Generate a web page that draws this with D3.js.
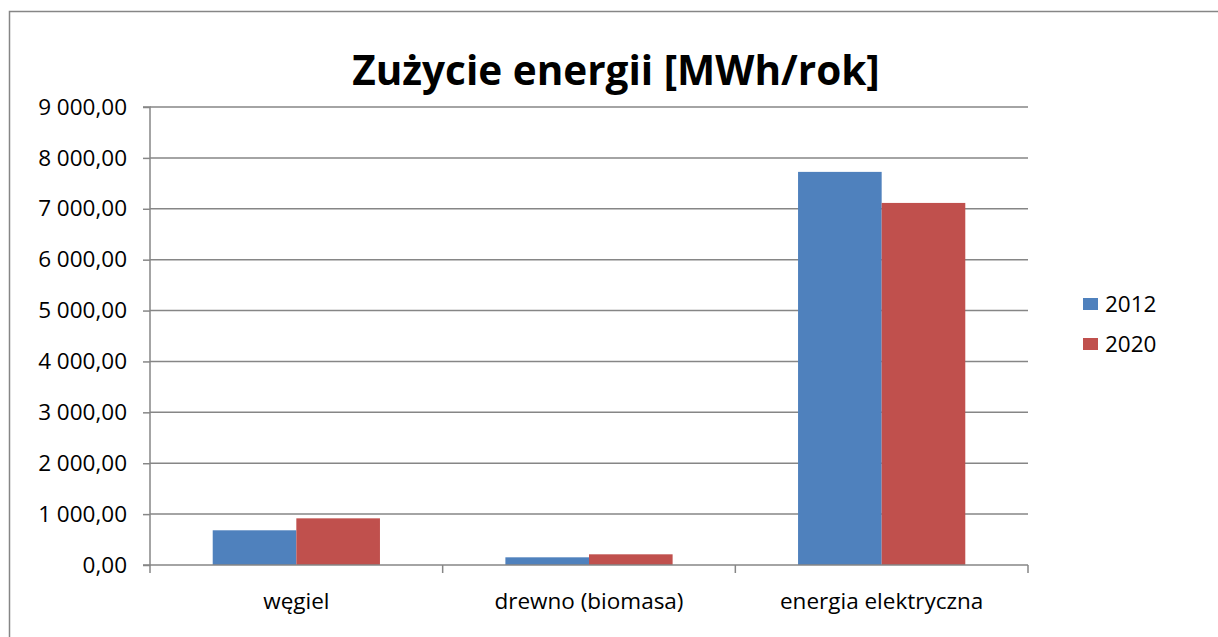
<!DOCTYPE html>
<html><head><meta charset="utf-8">
<script src="https://cdn.jsdelivr.net/npm/d3@7"></script>
<style>body{margin:0;background:#fff}svg{display:block}</style>
</head><body>
<script>
const categories = ["węgiel", "drewno (biomasa)", "energia elektryczna"];
const seriesNames = ["2012", "2020"];
const values2012 = [682, 151, 7725];
const values2020 = [917, 210, 7115];
const yTicks = [0, 1000, 2000, 3000, 4000, 5000, 6000, 7000, 8000, 9000];
const colors = ["#4F81BD", "#C0504D"];

const W = 1218, H = 637;
const font = "'Open Sans', sans-serif";
const svg = d3.select("body").append("svg").attr("width", W).attr("height", H);
svg.append("rect").attr("x", 9.5).attr("y", 11.5).attr("width", 1230).attr("height", 650)
  .attr("fill", "#fff").attr("stroke", "#868686").attr("stroke-width", 1.5);

const pLeft = 150, pRight = 1028, pTop = 107, pBottom = 565;
const x = d3.scaleBand().domain(categories).range([pLeft, pRight]).paddingInner(0).paddingOuter(0);
const y = d3.scaleLinear().domain([0, 9000]).range([pBottom, pTop]);
const gap = 1.5; // Excel gap width 150%
const xs = d3.scaleBand().domain(seriesNames).range([x.bandwidth()*gap/2/(2+gap), x.bandwidth() - x.bandwidth()*gap/2/(2+gap)]);

const fmt = v => d3.format(",.2f")(v).replace(/,/g, " ").replace(".", ",");

// gridlines
svg.append("g").selectAll("line").data(yTicks.filter(d => d > 0)).join("line")
  .attr("x1", pLeft).attr("x2", pRight).attr("y1", d => y(d)).attr("y2", d => y(d))
  .attr("stroke", "#868686").attr("stroke-width", 1.5);

// bars
const data = seriesNames.map((s, i) => ({ s, vals: i === 0 ? values2012 : values2020, c: colors[i] }));
data.forEach(d => {
  svg.append("g").selectAll("rect").data(categories).join("rect")
    .attr("x", c => x(c) + xs(d.s)).attr("width", xs.bandwidth())
    .attr("y", (c, i) => y(d.vals[i])).attr("height", (c, i) => y(0) - y(d.vals[i]))
    .attr("fill", d.c);
});

// y axis
const yAxis = d3.axisLeft(y).tickValues(yTicks).tickSize(7).tickPadding(16).tickFormat(fmt);
const gy = svg.append("g").attr("transform", `translate(${pLeft},0)`).call(yAxis);
gy.select(".domain").attr("stroke", "#868686").attr("stroke-width", 1.5).attr("d", `M-7,${pTop}H0V${pBottom}H-7`);
gy.selectAll(".tick line").attr("stroke", "#868686").attr("stroke-width", 1.5);
gy.selectAll("text").attr("font-family", font).attr("font-size", 22.5).attr("fill", "#000");

// x axis
const xAxis = d3.axisBottom(x).tickSize(0).tickPadding(28);
const gx = svg.append("g").attr("transform", `translate(0,${pBottom})`).call(xAxis);
gx.select(".domain").attr("stroke", "#868686").attr("stroke-width", 1.5).attr("d", `M${pLeft},0H${pRight}`);
gx.selectAll("text").attr("font-family", font).attr("font-size", 22.5).attr("fill", "#000");
const xt = [pLeft].concat(categories.map(c => x(c) + x.bandwidth()));
svg.append("g").selectAll("line").data(xt).join("line")
  .attr("x1", d => d).attr("x2", d => d).attr("y1", pBottom).attr("y2", pBottom + 8)
  .attr("stroke", "#868686").attr("stroke-width", 1.5);

// title
svg.append("text").attr("x", 616).attr("y", 85).attr("text-anchor", "middle")
  .attr("font-family", font).attr("font-weight", "bold").attr("font-size", 40.5)
  .text("Zużycie energii [MWh/rok]");

// legend
const lg = svg.append("g").selectAll("g").data(seriesNames).join("g")
  .attr("transform", (d, i) => `translate(1083,${298 + i * 40})`);
lg.append("rect").attr("width", 15).attr("height", 12).attr("fill", (d, i) => colors[i]);
lg.append("text").attr("x", 22).attr("y", 6).attr("dy", "0.35em")
  .attr("font-family", font).attr("font-size", 22.5).text(d => d);
</script>
</body></html>
